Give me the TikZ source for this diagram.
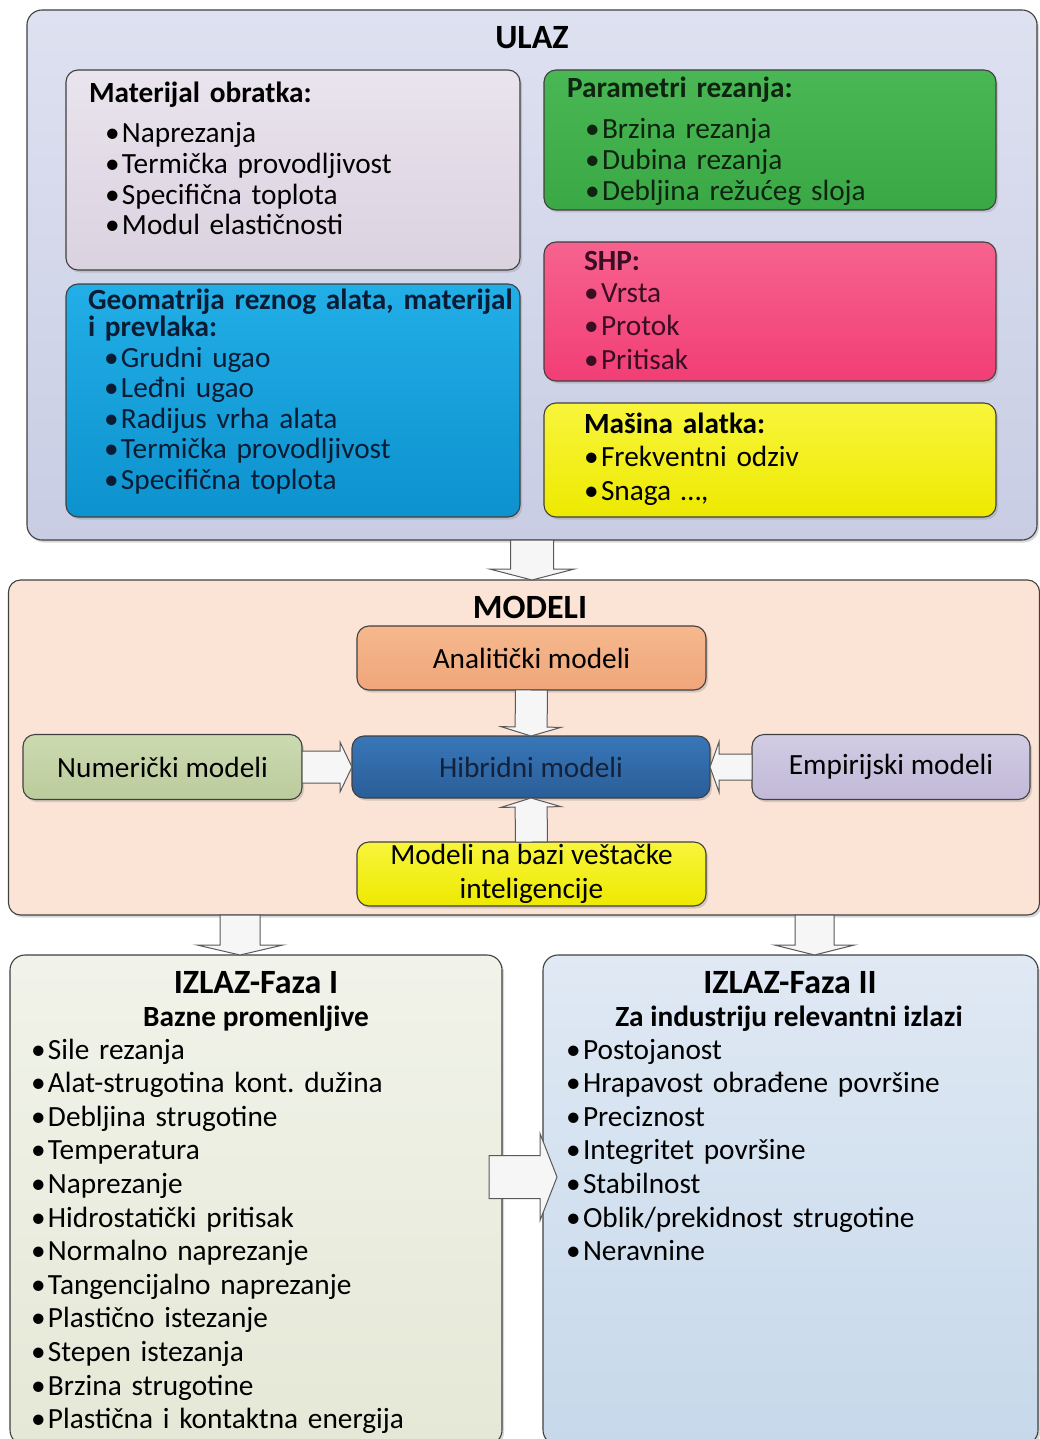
\documentclass[tikz,border=0pt]{standalone}
\usepackage{fontspec}
\setmainfont{Carlito}
\usetikzlibrary{calc,shadows}
\frenchspacing

% palette
\definecolor{frame}{HTML}{404040}
\definecolor{ulazT}{HTML}{DEE1F0}
\definecolor{ulazB}{HTML}{C8CDE4}
\definecolor{matT}{HTML}{E9E4EE}
\definecolor{matB}{HTML}{DBD2E0}
\definecolor{geoT}{HTML}{22AEE7}
\definecolor{geoB}{HTML}{0D92CE}
\definecolor{geoText}{HTML}{0A1C34}
\definecolor{parT}{HTML}{4AB755}
\definecolor{parB}{HTML}{3AA845}
\definecolor{parText}{HTML}{0E2410}
\definecolor{shpT}{HTML}{F7628F}
\definecolor{shpB}{HTML}{F23E76}
\definecolor{shpText}{HTML}{3A0E22}
\definecolor{yelT}{HTML}{F8F53C}
\definecolor{yelB}{HTML}{EEE900}
\definecolor{modBg}{HTML}{FBE4D5}
\definecolor{analT}{HTML}{F6B88E}
\definecolor{analB}{HTML}{EFA67A}
\definecolor{hibT}{HTML}{3877B8}
\definecolor{hibB}{HTML}{2A5D98}
\definecolor{hibText}{HTML}{13213A}
\definecolor{numT}{HTML}{CCDAB1}
\definecolor{numB}{HTML}{BBCB9B}
\definecolor{empT}{HTML}{D2CCE4}
\definecolor{empB}{HTML}{C1B9D7}
\definecolor{f1T}{HTML}{F1F3EA}
\definecolor{f1B}{HTML}{E5E8D6}
\definecolor{f2T}{HTML}{E0E9F4}
\definecolor{f2B}{HTML}{C6D8EA}
\definecolor{arrFill}{HTML}{F6F6F6}

% list bullet with hanging gap, and an indent
\newcommand\itm{\makebox[17pt][l]{\textbullet}}
\newcommand\ind[1][16pt]{\hspace*{#1}}

% wide hollow arrow from #1 to #2: shaft half width #3, head half width #4, head length #5
\newcommand\blockarrow[5]{%
  \coordinate (bahead) at ($(#2)!#5!(#1)$);
  \draw[barrow] ($(#1)!#3!90:(#2)$) -- ($(bahead)!#3!90:(#2)$) -- ($(bahead)!#4!90:(#2)$)
    -- (#2) -- ($(bahead)!#4!-90:(#2)$) -- ($(bahead)!#3!-90:(#2)$) -- ($(#1)!#3!-90:(#2)$) -- cycle;
}

\begin{document}
\begin{tikzpicture}[x=1pt,y=-1pt,
  panel/.style={draw=frame, line width=1.1pt, rounded corners=15pt, inner sep=0pt, outer sep=0pt,
    drop shadow={shadow xshift=2pt, shadow yshift=-2.5pt, opacity=0.3}},
  card/.style={panel, rounded corners=12pt, font=\fontsize{29.3}{34}\selectfont},
  txt/.style={inner sep=0pt, outer sep=0pt, font=\fontsize{29.3}{30.6}\selectfont},
  lst/.style={txt, anchor=base west, align=left, text width=#1},
  ttl/.style={inner sep=0pt, outer sep=0pt, anchor=base, font=\fontsize{34}{40}\selectfont\bfseries},
  sub/.style={inner sep=0pt, outer sep=0pt, anchor=base, font=\fontsize{29.3}{34}\selectfont\bfseries},
  barrow/.style={draw=black!65, line width=1pt, fill=arrFill, line join=miter},
]
\fill[white] (0,0) rectangle (1040,1439);
\useasboundingbox (0,0) rectangle (1040,1439);

% ---------- ULAZ ----------
\node[panel, minimum width=1010pt, minimum height=530pt, top color=ulazT, bottom color=ulazB] (ulaz) at (532,275) {};
\node[ttl] (ulazt) at (532,49) {ULAZ};

\node[card, minimum width=454pt, minimum height=200pt, top color=matT, bottom color=matB] (mat) at (293,170) {};
\node[lst=420pt] (matl) at (89,103) {\textbf{Materijal obratka:}\\[9.4pt]
\ind\itm Naprezanja\\
\ind\itm Termička provodljivost\\
\ind\itm Specifična toplota\\
\ind\itm Modul elastičnosti};

\node[card, minimum width=454pt, minimum height=233pt, top color=geoT, bottom color=geoB] (geo) at (293,400.5) {};
\node[lst=440pt, text=geoText] (geol) at (88,309) {\textbf{Geomatrija reznog alata, materijal}\\[-3.6pt]
\textbf{i prevlaka:}\\[0.4pt]
\ind\itm Grudni ugao\\
\ind\itm Leđni ugao\\
\ind\itm Radijus vrha alata\\
\ind\itm Termička provodljivost\\
\ind\itm Specifična toplota};

\node[card, minimum width=452pt, minimum height=140pt, top color=parT, bottom color=parB] (par) at (770,140) {};
\node[lst=400pt, text=parText] (parl) at (567,98) {\textbf{Parametri rezanja:}\\[10.4pt]
\ind[18pt]\itm Brzina rezanja\\
\ind[18pt]\itm Dubina rezanja\\
\ind[18pt]\itm Debljina režućeg sloja};

\node[card, minimum width=452pt, minimum height=139pt, top color=shpT, bottom color=shpB] (shp) at (770,311.5) {};
\node[lst=400pt, text=shpText, font=\fontsize{29.3}{33.5}\selectfont] (shpl) at (584,270) {\textbf{SHP:}\\[-1.5pt]
\itm Vrsta\\
\itm Protok\\
\itm Pritisak};

\node[card, minimum width=452pt, minimum height=114pt, top color=yelT, bottom color=yelB] (mas) at (770,460) {};
\node[lst=400pt, font=\fontsize{29.3}{34}\selectfont] (masl) at (584,433) {\textbf{Mašina alatka:}\\[-1pt]
\itm Frekventni odziv\\
\itm Snaga …,};

% ---------- MODELI ----------
\node[panel, rounded corners=12pt, minimum width=1031pt, minimum height=335pt, fill=modBg] (modeli) at (524,747.5) {};
\node[ttl] (modelit) at (530,618) {MODELI};

\node[card, minimum width=349pt, minimum height=64pt, top color=analT, bottom color=analB] (anal) at (531.5,658) {Analitički modeli};
\node[card, minimum width=358pt, minimum height=62pt, top color=hibT, bottom color=hibB, text=hibText] (hib) at (531,767) {Hibridni modeli};
\node[card, minimum width=279pt, minimum height=65pt, top color=numT, bottom color=numB] (num) at (162.5,767) {Numerički modeli};
\node[card, minimum width=278pt, minimum height=65pt, top color=empT, bottom color=empB] (emp) at (891,767) {Empirijski modeli};
\node[card, minimum width=349pt, minimum height=64pt, top color=yelT, bottom color=yelB, align=center] (ai) at (531.5,874) {Modeli na bazi veštačke\\inteligencije};

% ---------- IZLAZ ----------
\node[panel, minimum width=492pt, minimum height=490pt, top color=f1T, bottom color=f1B] (f1) at (256,1200) {};
\node[ttl] (f1t) at (256,993) {IZLAZ-Faza I};
\node[sub] (f1s) at (256,1026) {Bazne promenljive};
\node[lst=460pt, font=\fontsize{29.3}{33.6}\selectfont] (f1l) at (31,1059) {\itm Sile rezanja\\
\itm Alat-strugotina kont. dužina\\
\itm Debljina strugotine\\
\itm Temperatura\\
\itm Naprezanje\\
\itm Hidrostatički pritisak\\
\itm Normalno naprezanje\\
\itm Tangencijalno naprezanje\\
\itm Plastično istezanje\\
\itm Stepen istezanja\\
\itm Brzina strugotine\\
\itm Plastična i kontaktna energija};

\node[panel, minimum width=495pt, minimum height=490pt, top color=f2T, bottom color=f2B] (f2) at (790.5,1200) {};
\node[ttl] (f2t) at (790,993) {IZLAZ-Faza II};
\node[sub] (f2s) at (789,1026) {Za industriju relevantni izlazi};
\node[lst=460pt, font=\fontsize{29.3}{33.6}\selectfont] (f2l) at (566,1059) {\itm Postojanost\\
\itm Hrapavost obrađene površine\\
\itm Preciznost\\
\itm Integritet površine\\
\itm Stabilnost\\
\itm Oblik/prekidnost strugotine\\
\itm Neravnine};

% ---------- connectors ----------
\coordinate (u2m) at (ulaz.south |- modeli.north);
\blockarrow{ulaz.south}{u2m}{21.5pt}{42.5pt}{11pt}
\blockarrow{anal.south}{hib.north}{16pt}{30pt}{9pt}
\blockarrow{ai.north}{hib.south}{16pt}{30pt}{9pt}
\blockarrow{num.east}{hib.west}{16pt}{25pt}{12pt}
\blockarrow{emp.west}{hib.east}{13pt}{25pt}{9pt}
\coordinate (m2f1a) at (modeli.south -| 240,0);
\coordinate (m2f1b) at (f1.north -| 240,0);
\blockarrow{m2f1a}{m2f1b}{20pt}{43pt}{10pt}
\coordinate (m2f2a) at (modeli.south -| 814.5,0);
\coordinate (m2f2b) at (f2.north -| 814.5,0);
\blockarrow{m2f2a}{m2f2b}{19.5pt}{40pt}{10pt}
\coordinate (f12a) at (489,1177);
\coordinate (f12b) at (557,1177);
\blockarrow{f12a}{f12b}{21.5pt}{43.5pt}{17pt}
\end{tikzpicture}
\end{document}
